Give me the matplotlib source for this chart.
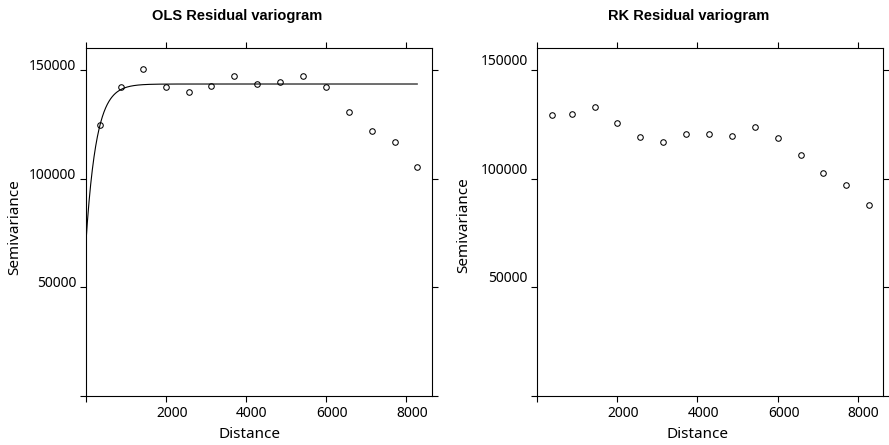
import numpy as np
import matplotlib
matplotlib.use("Agg")
import matplotlib.pyplot as plt
from matplotlib.transforms import ScaledTranslation

# lag distances (same bins for both variograms)
distance = [360, 870, 1435, 2000, 2575, 3140, 3715, 4290, 4860, 5430,
            6000, 6575, 7140, 7715, 8280]

# sample semivariances
ols_gamma = [124700, 141900, 150500, 141900, 139600, 142700, 147100, 143700,
             144500, 147000, 141900, 130700, 122000, 116700, 105400]
rk_gamma = [129300, 129800, 133000, 125500, 118900, 116700, 120600, 120700,
            119500, 123500, 118600, 110900, 102500, 97100, 87900]

# fitted exponential model for the OLS residuals
nugget = 69000
sill = 143500
rng = 260

xticks = [0, 2000, 4000, 6000, 8000]
xticklabels = ["", "2000", "4000", "6000", "8000"]
yticks = [0, 50000, 100000, 150000]
yticklabels = ["", "50000", "100000", "150000"]

W, H = 889, 445
fig = plt.figure(figsize=(W / 100, H / 100), dpi=100)

tickfont = ["Noto Sans", "DejaVu Sans"]


def setup(ax, ylab_shift):
    ax.set_xlim(0, 8640)
    ax.set_ylim(0, 160200)
    for s in ax.spines.values():
        s.set_linewidth(0.8)
    ax.set_xticks(xticks)
    ax.set_xticklabels(xticklabels)
    ax.set_yticks(yticks)
    ax.set_yticklabels(yticklabels)
    ax.tick_params(direction="out", length=4.4, width=0.8, top=True, right=True,
                   labelsize=10, pad=2.5)
    for lab in ax.get_xticklabels():
        lab.set_family(tickfont)
        lab.set_transform(lab.get_transform() + ScaledTranslation(6 / 100, 0, fig.dpi_scale_trans))
    for lab in ax.get_yticklabels():
        lab.set_family(tickfont)
        lab.set_verticalalignment("baseline")
        lab.set_transform(lab.get_transform() + ScaledTranslation(0, ylab_shift / 100, fig.dpi_scale_trans))
    ax.set_xlabel("Distance", fontsize=11, family=tickfont)
    ax.set_ylabel("Semivariance", fontsize=11, family=tickfont)
    ax.xaxis.label.set_va("center")
    ax.yaxis.label.set_va("center")


# left panel: OLS residuals with fitted model
ax1 = fig.add_axes([85.7 / W, 49 / H, 346 / W, 348.3 / H])
setup(ax1, 0)
h = np.linspace(0, distance[-1], 400)
model = nugget + (sill - nugget) * (1 - np.exp(-h / rng))
ax1.plot(h, model, color="black", lw=0.8)
ax1.plot(distance, ols_gamma, "o", mfc="none", mec="black", ms=4, mew=0.75)
ax1.xaxis.set_label_coords((249 - 85.7) / 346, (396 - 435) / 348.3)
ax1.yaxis.set_label_coords((15 - 85.7) / 346, (396 - 226.7) / 348.3)

# right panel: RK residuals
ax2 = fig.add_axes([537.3 / W, 49 / H, 346 / W, 348.3 / H])
setup(ax2, 5)
ax2.plot(distance, rk_gamma, "o", mfc="none", mec="black", ms=4, mew=0.75)
ax2.xaxis.set_label_coords((698 - 537.3) / 346, (396 - 435) / 348.3)
ax2.yaxis.set_label_coords((464 - 537.3) / 346, (396 - 225) / 348.3)

fig.text(237 / W, 1 - 15.7 / H, "OLS Residual variogram", ha="center", va="center",
         fontsize=10.5, fontweight="bold", family="Liberation Sans")
fig.text(688.7 / W, 1 - 15.7 / H, "RK Residual variogram", ha="center", va="center",
         fontsize=10.5, fontweight="bold", family="Liberation Sans")

fig.savefig("out.png", dpi=100)
